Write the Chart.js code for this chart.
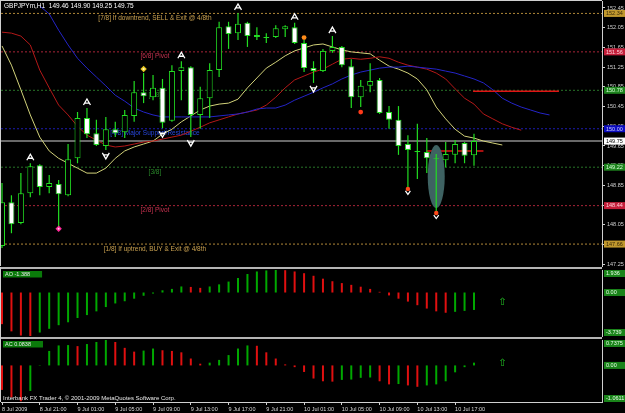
<!DOCTYPE html>
<html><head><meta charset="utf-8">
<script src="https://cdn.jsdelivr.net/npm/chart.js@4.4.1/dist/chart.umd.min.js"></script>
<style>
html,body{margin:0;padding:0;background:#000;width:625px;height:413px;overflow:hidden}
canvas{position:absolute;left:0;display:block}
#cMain{top:0}#cAO{top:267px}#cAC{top:337px}
</style></head><body>
<canvas id="cMain" width="625" height="267"></canvas>
<canvas id="cAO" width="625" height="70"></canvas>
<canvas id="cAC" width="625" height="76"></canvas>
<script>
// ---------------- DATA ----------------
const symbolTitle = 'GBPJPYm,H1  149.46 149.90 149.25 149.75';
const opens  = [147.62,148.51,148.09,148.69,149.26,148.82,148.88,148.65,149.40,150.22,149.91,149.65,149.99,149.93,150.26,150.74,150.64,150.83,150.16,151.17,151.25,150.28,150.62,151.19,152.08,151.94,152.15,151.86,151.84,151.86,152.02,152.06,151.74,151.23,151.17,151.58,151.66,151.27,150.64,150.87,150.99,150.34,150.18,149.69,149.53,149.53,149.38,149.36,149.47,149.71,149.46];
const highs  = [148.90,148.65,149.10,149.30,149.28,149.06,148.96,149.69,150.34,150.42,150.18,150.24,150.14,150.38,150.97,151.13,151.09,151.01,151.29,151.37,151.27,150.85,151.33,152.17,152.17,152.35,152.17,152.06,151.94,152.10,152.10,152.15,151.80,151.37,151.62,151.88,151.68,151.41,150.99,151.33,151.03,150.46,150.46,149.87,150.10,149.81,149.49,149.73,149.77,149.73,149.90];
const lows   = [147.58,147.88,148.06,148.61,148.65,148.69,148.00,148.63,149.30,149.81,149.65,149.57,149.83,149.81,150.14,150.52,150.58,150.01,150.14,150.58,149.83,150.00,150.22,151.05,151.62,151.80,151.66,151.80,151.74,151.84,151.86,151.72,151.15,150.93,151.15,151.54,151.25,150.42,150.44,150.74,150.30,150.00,149.47,148.80,148.98,149.10,148.31,149.22,149.30,149.30,149.25];
const closes = [148.51,148.06,148.69,149.24,148.82,148.90,148.67,149.38,150.22,149.89,149.67,149.99,149.91,150.28,150.74,150.66,150.83,150.12,151.17,151.25,150.28,150.62,151.19,152.06,151.92,152.13,151.88,151.90,151.86,152.04,152.08,151.74,151.23,151.17,151.58,151.66,151.29,150.64,150.87,150.97,150.32,150.18,149.65,149.57,149.55,149.40,149.40,149.49,149.69,149.45,149.75];

// Alligator lines (already shifted forward, indexed by bar position)
const lipsYellow = [151.68,151.29,150.79,150.28,149.83,149.55,149.40,149.30,149.20,149.10,149.10,149.20,149.40,149.55,149.63,149.69,149.75,149.89,149.99,150.14,150.26,150.38,150.46,150.50,150.52,150.60,150.83,151.03,151.23,151.35,151.48,151.58,151.64,151.70,151.72,151.66,151.60,151.56,151.54,151.52,151.39,151.27,151.21,151.13,151.01,150.79,150.44,150.20,149.99,149.85,149.81,149.75,149.71,149.67];
const teethRed = [151.96,151.94,151.88,151.70,151.19,150.83,150.48,150.28,150.05,149.87,149.77,149.67,149.63,149.65,149.69,149.73,149.75,149.79,149.83,149.87,149.95,150.03,150.12,150.18,150.24,150.30,150.34,150.38,150.48,150.64,150.83,150.99,151.07,151.15,151.21,151.31,151.41,151.43,151.41,151.43,151.46,151.43,151.35,151.29,151.25,151.21,151.13,151.01,150.81,150.62,150.50,150.30,150.20,150.10,150.03,149.97];
const jawBlue = [null,null,null,null,152.49,152.33,152.00,151.70,151.43,151.23,151.05,150.87,150.68,150.56,150.42,150.34,150.28,150.24,150.24,150.24,150.24,150.24,150.24,150.26,150.28,150.30,150.34,150.40,150.42,150.42,150.48,150.58,150.66,150.74,150.83,150.91,151.01,151.09,151.15,151.19,151.23,151.25,151.25,151.27,151.25,151.23,151.21,151.17,151.13,151.07,151.01,150.93,150.79,150.62,150.52,150.44,150.38,150.32,150.28];

const aoValues = [-2.72,-3.34,-3.70,-3.739,-3.44,-3.12,-2.81,-2.56,-2.19,-1.94,-1.62,-1.25,-0.94,-0.75,-0.53,-0.28,-0.09,0.19,0.31,0.52,0.48,0.40,0.52,0.70,0.94,1.25,1.59,1.81,1.90,1.936,1.92,1.81,1.66,1.44,1.19,0.97,0.81,0.66,0.50,0.31,0.06,-0.25,-0.53,-0.78,-1.09,-1.38,-1.62,-1.74,-1.66,-1.58,-1.50];
const acValues = [-0.71,-0.93,-1.04,-0.74,-0.01,0.42,0.58,0.59,0.56,0.62,0.68,0.7375,0.68,0.51,0.40,0.43,0.49,0.44,0.42,0.38,0.20,0.05,0.08,0.16,0.30,0.49,0.58,0.57,0.38,0.20,0.03,-0.05,-0.19,-0.38,-0.46,-0.47,-0.42,-0.41,-0.36,-0.35,-0.46,-0.55,-0.54,-0.58,-0.62,-0.58,-0.55,-0.46,-0.20,-0.05,0.08];

const murreyLevels = [152.34,151.56,150.78,150.00,149.22,148.44,147.66];
const murreyNames = ['[7/8] If downtrend, SELL & Exit @ 4/8th','[6/8] Pivot','[5/8]','[4/8] Major Support/Resistance','[3/8]','[2/8] Pivot','[1/8] If uptrend, BUY & Exit @ 4/8th'];
const priceTicks = [152.45,152.05,151.65,151.25,150.85,150.45,150.05,149.65,149.25,148.85,148.45,148.05,147.65,147.25];
const timeTickBars = [0,4,8,12,16,20,24,28,32,36,40,44,48];
const timeTickLabels = ['8 Jul 2009','8 Jul 21:00','9 Jul 01:00','9 Jul 05:00','9 Jul 09:00','9 Jul 13:00','9 Jul 17:00','9 Jul 21:00','10 Jul 01:00','10 Jul 05:00','10 Jul 09:00','10 Jul 13:00','10 Jul 17:00'];
const fractalUpBars = [3,9,19,25,31,35];
const fractalDownBars = [11,17,20,33];
const signalBars = [6,15,32,38,43,46];
const signalKinds = ['pink','yellow','orange','red','redArrow','redArrow'];
const dayLineStart = [45,49.9];
const dayLineEnd = [51,59];
const dayLinePrice = [149.55,150.76];
const ellipseBar = 46;
const ellipsePrices = [148.39,149.67];
const aoScaleLabels = [1.936,0,-3.739];
const acScaleLabels = [0.7375,0,-1.0611];
const aoTitle = 'AO -1.388';
const acTitle = 'AC 0.0838';
const aoArrow = [53,-0.82];
const acArrow = [53,0.07];
const copyright = 'Interbank FX Trader 4, \u00A9 2001-2009 MetaQuotes Software Corp.';

// ---------------- STYLE ----------------
const FONT = '"Liberation Sans", Arial, sans-serif';
const X_MIN = -0.106, X_MAX = 63.56;
const P_MIN = 147.215, P_MAX = 152.592;
const CANDLE = '#22dd22';
const LEVEL_LINE = ['#b08838','#a82438','#287428','#1c1cb0','#287428','#a82438','#b08838'];
const LEVEL_TEXT = ['#c8a050','#c83250','#2a8a2a','#2848e0','#2a8a2a','#c83250','#c8a050'];
const BOX_BG = ['#c0982e','#c41e3a','#1e841e','#0c0cc0','#1e841e','#c41e3a','#c0982e'];
const BOX_FG = ['#3a2a08','#ffd0d8','#d8ffd8','#d0d0ff','#d8ffd8','#ffd0d8','#3a2a08'];
const FRAME = '#d0d0d0';
const SEP = '#b4b4b4';

function fitY(w){ return s => { s.width = w; s.paddingTop = 0; s.paddingBottom = 0; s.paddingLeft = 0; s.paddingRight = 0; }; }
function fitX(h){ return s => { s.height = h; s.paddingTop = 0; s.paddingBottom = 0; s.paddingLeft = 0; s.paddingRight = 0; }; }
const hiddenX = { type:'linear', min:X_MIN, max:X_MAX, display:false, offset:false, grid:{offset:false} };
const barColors = vals => vals.map((v,i) => (i > 0 && v > vals[i-1]) ? '#00a800' : '#e01010');

function drawUp(ctx,x,y){
  ctx.beginPath(); ctx.moveTo(x-3.5,y+3); ctx.lineTo(x,y-3); ctx.lineTo(x+3.5,y+3);
  ctx.moveTo(x-2,y+1); ctx.lineTo(x+2,y+1); ctx.stroke();
}
function drawDown(ctx,x,y){
  ctx.beginPath(); ctx.moveTo(x-3.5,y-3); ctx.lineTo(x,y+3); ctx.lineTo(x+3.5,y-3);
  ctx.moveTo(x-2,y-1); ctx.lineTo(x+2,y-1); ctx.stroke();
}
function diamond(ctx,x,y,r,fill){
  ctx.beginPath(); ctx.moveTo(x,y-r); ctx.lineTo(x+r,y); ctx.lineTo(x,y+r); ctx.lineTo(x-r,y); ctx.closePath();
  ctx.fillStyle = fill; ctx.fill();
}
function dot(ctx,x,y,r,fill){ ctx.beginPath(); ctx.arc(x,y,r,0,Math.PI*2); ctx.fillStyle=fill; ctx.fill(); }

function panelBoxes(ctx, a, y, labels){
  ctx.font = '5.5px ' + FONT; ctx.textAlign='left'; ctx.textBaseline='middle';
  labels.forEach(v => {
    let py = y.getPixelForValue(v);
    py = Math.min(Math.max(py, a.top+3.5), a.bottom-3.5);
    ctx.fillStyle = '#1a841a'; ctx.fillRect(a.right+2, py-3.5, 21, 7);
    ctx.fillStyle = '#e8ffe8'; ctx.fillText(v === 0 ? '0.00' : String(v), a.right+4, py+0.3);
  });
}
function panelTitle(ctx, a, text){
  ctx.font = '5.5px ' + FONT;
  const w = ctx.measureText(text).width + 14;
  ctx.fillStyle = '#0a7a0a'; ctx.fillRect(a.left+2, a.top+1, Math.max(w,31), 6.5);
  ctx.fillStyle = '#e8e8e8'; ctx.textAlign='left'; ctx.textBaseline='middle';
  ctx.fillText(text, a.left+4, a.top+4.4);
}

// ---------------- MAIN CHART ----------------
const mainDecor = {
  id:'mainDecor',
  beforeDatasetsDraw(chart){
    const {ctx, scales:{x,y}} = chart;
    ctx.save();
    ctx.font = '6.5px ' + FONT; ctx.textAlign='center'; ctx.textBaseline='top';
    murreyNames.forEach((t,k) => {
      ctx.fillStyle = LEVEL_TEXT[k];
      ctx.fillText(t, x.getPixelForValue(16.2), y.getPixelForValue(murreyLevels[k]) + 1.5);
    });
    ctx.restore();
  },
  beforeDatasetDraw(chart,args){
    if (chart.data.datasets[args.index].label !== 'wick') return;
    const {ctx, scales:{x,y}} = chart;
    const cx = x.getPixelForValue(ellipseBar);
    const rx = x.getPixelForValue(ellipseBar+0.9) - cx;
    const y1 = y.getPixelForValue(ellipsePrices[1]), y2 = y.getPixelForValue(ellipsePrices[0]);
    ctx.save(); ctx.fillStyle = '#3e6262';
    ctx.beginPath(); ctx.ellipse(cx,(y1+y2)/2,rx,(y2-y1)/2,0,0,Math.PI*2); ctx.fill(); ctx.restore();
  },
  afterDatasetsDraw(chart){
    const {ctx, scales:{x,y}} = chart;
    ctx.save();
    ctx.strokeStyle = '#ffffff'; ctx.lineWidth = 1.3;
    fractalUpBars.forEach(i => drawUp(ctx, x.getPixelForValue(i), y.getPixelForValue(highs[i]) - 6));
    fractalDownBars.forEach(i => drawDown(ctx, x.getPixelForValue(i), y.getPixelForValue(lows[i]) + 6));
    signalBars.forEach((i,k) => {
      const px = x.getPixelForValue(i), hy = y.getPixelForValue(highs[i]), ly = y.getPixelForValue(lows[i]);
      const kind = signalKinds[k];
      if (kind === 'pink'){ diamond(ctx,px,ly+1.5,3.2,'#ff2a9a'); dot(ctx,px,ly+1.5,1,'#ffd0f0'); }
      else if (kind === 'yellow'){ diamond(ctx,px,hy-4,3.2,'#e8c820'); dot(ctx,px,hy-4,1.1,'#fff8c0'); }
      else if (kind === 'orange'){ dot(ctx,px,hy-2.5,2.4,'#ff8c1a'); }
      else if (kind === 'red'){ dot(ctx,px,ly+5,2.4,'#ff3a1a'); }
      else { dot(ctx,px,ly+1,2.2,'#ff4a1a'); ctx.strokeStyle='#ffffff'; ctx.lineWidth=1.2;
             ctx.beginPath(); ctx.moveTo(px-2.5,ly+3); ctx.lineTo(px,ly+6.5); ctx.lineTo(px+2.5,ly+3); ctx.stroke(); }
    });
    ctx.restore();
  },
  afterDraw(chart){
    const {ctx, chartArea:a, scales:{y}} = chart;
    ctx.save();
    // frame
    ctx.fillStyle = FRAME; ctx.fillRect(a.left-1, a.top-1, a.right-a.left+1, 1); ctx.fillRect(a.left-1, a.top-1, 1, a.bottom-a.top+1);
    // level boxes
    const boxes = murreyLevels.map((v,k) => [v, BOX_BG[k], BOX_FG[k]]);
    boxes.push([closes[closes.length-1], '#ffffff', '#000000']);
    ctx.font = '5.5px ' + FONT; ctx.textAlign='left'; ctx.textBaseline='middle';
    boxes.forEach(([v,bg,fg]) => {
      const py = y.getPixelForValue(v);
      ctx.fillStyle = bg; ctx.fillRect(a.right+2, py-3.5, 21, 7);
      ctx.fillStyle = fg; ctx.fillText(v.toFixed(2), a.right+4, py+0.3);
    });
    // title
    ctx.font = '6.5px ' + FONT; ctx.fillStyle = '#ffffff'; ctx.textBaseline='top';
    ctx.fillText(symbolTitle, 4, 3);
    ctx.restore();
  }
};

const levelDatasets = murreyLevels.map((lv,k) => ({
  type:'line', label:'level'+k, data:[{x:X_MIN,y:lv},{x:X_MAX,y:lv}],
  borderColor:LEVEL_LINE[k], borderWidth:1, borderDash:[2,2], pointRadius:0, order:10
}));
const dayLineDatasets = dayLinePrice.map((p,k) => ({
  type:'line', label:'day'+k, data:[{x:dayLineStart[k],y:p},{x:dayLineEnd[k],y:p}],
  borderColor:'#e01414', borderWidth:1.5, pointRadius:0, order:7
}));
const maLine = (vals, color, label) => ({
  type:'line', label, data: vals.map((v,i) => ({x:i, y:v})),
  borderColor:color, borderWidth:1, pointRadius:0, tension:0, order:8, spanGaps:false
});

new Chart(document.getElementById('cMain'), {
  type:'bar',
  data:{ datasets:[
    ...levelDatasets,
    { type:'line', label:'bid', data:[{x:X_MIN,y:closes[closes.length-1]},{x:X_MAX,y:closes[closes.length-1]}],
      borderColor:'#8c8c8c', borderWidth:1.6, pointRadius:0, order:9 },
    ...dayLineDatasets,
    maLine(jawBlue,'#2424c8','jaw'),
    maLine(teethRed,'#b41818','teeth'),
    maLine(lipsYellow,'#d2d27a','lips'),
    { label:'wick', data: opens.map((o,i) => ({x:i, y:[lows[i], highs[i]]})),
      backgroundColor:CANDLE, borderWidth:0, barThickness:1.2, grouped:false, order:2, inflateAmount:0 },
    { label:'body', data: opens.map((o,i) => ({x:i, y:[o, closes[i]]})),
      backgroundColor: closes.map((c,i) => c >= opens[i] ? '#000000' : '#ffffff'),
      borderColor:CANDLE, borderWidth:1, borderSkipped:false, barThickness:6, minBarLength:1,
      grouped:false, order:1, inflateAmount:0 }
  ]},
  options:{
    responsive:false, animation:false, events:[],
    layout:{ autoPadding:false, padding:{left:1, top:1, right:0, bottom:1} },
    plugins:{ legend:{display:false}, tooltip:{enabled:false} },
    scales:{
      x: hiddenX,
      y: { type:'linear', position:'right', min:P_MIN, max:P_MAX,
           afterBuildTicks: s => { s.ticks = priceTicks.map(v => ({value:v})); },
           afterFit: fitY(23),
           ticks:{ autoSkip:false, color:'#d0d0d0', font:{family:FONT, size:5.5}, padding:2, callback: v => v.toFixed(2) },
           grid:{ display:true, drawOnChartArea:false, drawTicks:true, tickLength:3, color:FRAME },
           border:{ display:true, color:FRAME, width:1 } }
    }
  },
  plugins:[mainDecor]
});

// ---------------- AO ----------------
const aoDecor = {
  id:'aoDecor',
  afterDraw(chart){
    const {ctx, chartArea:a, scales:{x,y}} = chart;
    ctx.save();
    ctx.fillStyle = SEP; ctx.fillRect(0, 0, a.right, 2);
    ctx.fillStyle = FRAME; ctx.fillRect(a.left-1, 0, 1, chart.height);
    panelTitle(ctx, a, aoTitle);
    panelBoxes(ctx, a, y, aoScaleLabels);
    ctx.font = '10px "DejaVu Sans"'; ctx.fillStyle = '#22c022'; ctx.textAlign='center'; ctx.textBaseline='middle';
    ctx.fillText('\u21E7', x.getPixelForValue(aoArrow[0]), y.getPixelForValue(aoArrow[1]));
    ctx.restore();
  }
};
new Chart(document.getElementById('cAO'), {
  type:'bar',
  data:{ datasets:[{ label:'AO', data: aoValues.map((v,i) => ({x:i, y:v})), backgroundColor: barColors(aoValues),
    barThickness:2, grouped:false, inflateAmount:0 }]},
  options:{
    responsive:false, animation:false, events:[],
    layout:{ autoPadding:false, padding:{left:1, top:3, right:0, bottom:1} },
    plugins:{ legend:{display:false}, tooltip:{enabled:false} },
    scales:{
      x: hiddenX,
      y: { type:'linear', position:'right', min:-3.739, max:1.936, afterFit: fitY(23),
           ticks:{display:false}, grid:{display:false}, border:{display:true, color:FRAME} }
    }
  },
  plugins:[aoDecor]
});

// ---------------- AC ----------------
const acDecor = {
  id:'acDecor',
  afterDraw(chart){
    const {ctx, chartArea:a, scales:{x,y}} = chart;
    ctx.save();
    ctx.fillStyle = SEP; ctx.fillRect(0, 0, a.right, 2);
    ctx.fillStyle = FRAME; ctx.fillRect(a.left-1, 0, 1, a.bottom);
    panelTitle(ctx, a, acTitle);
    panelBoxes(ctx, a, y, acScaleLabels);
    ctx.font = '10px "DejaVu Sans"'; ctx.fillStyle = '#22c022'; ctx.textAlign='center'; ctx.textBaseline='middle';
    ctx.fillText('\u21E7', x.getPixelForValue(acArrow[0]), y.getPixelForValue(acArrow[1]));
    ctx.font = '6px ' + FONT; ctx.fillStyle = '#e8e8e8'; ctx.textAlign='left'; ctx.textBaseline='alphabetic';
    ctx.fillText(copyright, 3, a.bottom - 2);
    ctx.restore();
  }
};
new Chart(document.getElementById('cAC'), {
  type:'bar',
  data:{ datasets:[{ label:'AC', data: acValues.map((v,i) => ({x:i, y:v})), backgroundColor: barColors(acValues),
    barThickness:2, grouped:false, inflateAmount:0 }]},
  options:{
    responsive:false, animation:false, events:[],
    layout:{ autoPadding:false, padding:{left:1, top:3, right:0, bottom:0} },
    plugins:{ legend:{display:false}, tooltip:{enabled:false} },
    scales:{
      x: { type:'linear', min:X_MIN, max:X_MAX, offset:false, position:'bottom',
           afterBuildTicks: s => { s.ticks = timeTickBars.map(v => ({value:v})); },
           afterFit: fitX(11),
           ticks:{ autoSkip:false, maxRotation:0, align:'start', color:'#d8d8d8', font:{family:FONT, size:5.5}, padding:1,
                   callback: (v,i) => timeTickLabels[i] },
           grid:{ display:true, offset:false, drawOnChartArea:false, drawTicks:true, tickLength:3, color:FRAME },
           border:{ display:true, color:FRAME } },
      y: { type:'linear', position:'right', min:-1.0611, max:0.7375, afterFit: fitY(23),
           ticks:{display:false}, grid:{display:false}, border:{display:true, color:FRAME} }
    }
  },
  plugins:[acDecor]
});
</script>
</body></html>
